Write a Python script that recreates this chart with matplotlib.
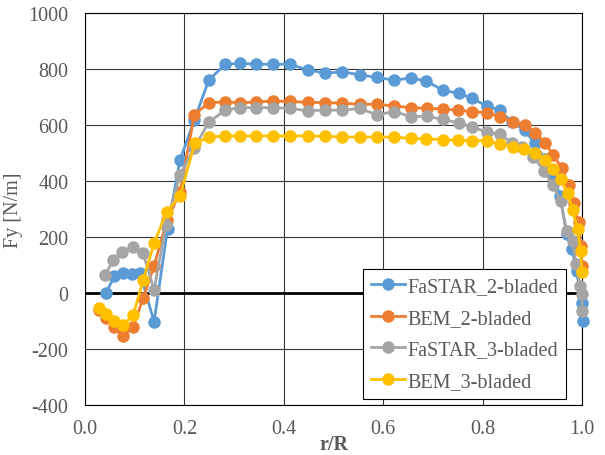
import matplotlib.pyplot as plt

plt.rcParams['font.family'] = ['Liberation Serif', 'DejaVu Serif']
plt.rcParams['axes.unicode_minus'] = False

# FaSTAR, 2 blades
r_fastar2 = [0.042, 0.059, 0.076, 0.094, 0.111, 0.139, 0.166, 0.191, 0.220, 0.249,
             0.282, 0.312, 0.345, 0.379, 0.412, 0.448, 0.483, 0.518, 0.553, 0.587,
             0.622, 0.655, 0.687, 0.720, 0.752, 0.779, 0.808, 0.835, 0.859, 0.885,
             0.905, 0.926, 0.942, 0.956, 0.969, 0.980, 0.989, 0.999, 1.003]
fy_fastar2 = [0, 59, 70, 67, 70, -103, 228, 474, 618, 760,
              817, 820, 817, 817, 817, 797, 785, 790, 779, 770,
              760, 768, 757, 724, 713, 695, 668, 653, 609, 581,
              535, 478, 418, 347, 210, 156, 79, -34, -100]

# BEM, 2 blades
r_bem2 = [0.028, 0.042, 0.059, 0.076, 0.097, 0.117, 0.139, 0.165, 0.191, 0.220,
          0.249, 0.282, 0.312, 0.345, 0.379, 0.412, 0.448, 0.483, 0.518, 0.553,
          0.587, 0.622, 0.655, 0.688, 0.721, 0.751, 0.779, 0.808, 0.835, 0.861,
          0.885, 0.905, 0.926, 0.942, 0.959, 0.973, 0.983, 0.993, 0.997, 1.0]
fy_bem2 = [-60, -88, -123, -153, -120, -18, 97, 260, 359, 636,
           680, 682, 680, 682, 686, 684, 681, 680, 678, 674,
           674, 668, 662, 660, 657, 652, 648, 644, 630, 611,
           599, 573, 537, 492, 448, 385, 321, 252, 168, 95]

# FaSTAR, 3 blades
r_fastar3 = [0.040, 0.057, 0.075, 0.096, 0.117, 0.139, 0.163, 0.191, 0.220, 0.249,
             0.282, 0.312, 0.345, 0.379, 0.412, 0.448, 0.483, 0.518, 0.553, 0.587,
             0.622, 0.655, 0.688, 0.721, 0.752, 0.779, 0.808, 0.835, 0.859, 0.880,
             0.902, 0.924, 0.941, 0.957, 0.969, 0.981, 0.988, 0.996, 0.999, 1.001]
fy_fastar3 = [64, 117, 145, 166, 142, 11, 242, 421, 519, 610,
              653, 662, 662, 662, 659, 651, 653, 653, 659, 636,
              648, 630, 631, 620, 607, 593, 575, 567, 537, 520,
              487, 436, 385, 329, 222, 186, 103, 25, -4, -64]

# BEM, 3 blades
r_bem3 = [0.028, 0.042, 0.059, 0.076, 0.097, 0.117, 0.139, 0.164, 0.191, 0.221,
          0.249, 0.282, 0.312, 0.345, 0.379, 0.412, 0.448, 0.483, 0.518, 0.553,
          0.587, 0.622, 0.655, 0.687, 0.720, 0.751, 0.779, 0.808, 0.835, 0.861,
          0.883, 0.905, 0.926, 0.942, 0.957, 0.971, 0.981, 0.991, 0.997, 1.0]
fy_bem3 = [-52, -76, -100, -115, -79, 47, 177, 290, 345, 535,
           557, 561, 561, 561, 561, 561, 561, 560, 557, 557,
           557, 557, 552, 550, 548, 545, 544, 544, 531, 523,
           516, 499, 474, 442, 406, 356, 297, 230, 150, 75]

series = [
    ('FaSTAR_2-bladed', r_fastar2, fy_fastar2, '#5B9BD5'),
    ('BEM_2-bladed', r_bem2, fy_bem2, '#ED7D31'),
    ('FaSTAR_3-bladed', r_fastar3, fy_fastar3, '#A5A5A5'),
    ('BEM_3-bladed', r_bem3, fy_bem3, '#FFC000'),
]

fig = plt.figure(figsize=(6.05, 4.56), dpi=100)
ax = fig.add_axes([85 / 605, 1 - 406 / 456, 497 / 605, 392 / 456])

for label, r, fy, c in series:
    ax.plot(r, fy, '-o', color=c, lw=2, ms=8, label=label, clip_on=False, zorder=3)

ax.set_xlim(0, 1)
ax.set_ylim(-400, 1000)
ax.set_xticks([0, 0.2, 0.4, 0.6, 0.8, 1.0])
ax.set_xticklabels(['0.0', '0.2', '0.4', '0.6', '0.8', '1.0'])
ax.set_yticks(range(-400, 1001, 200))
ax.grid(True, color='#333333', lw=0.8)
ax.axhline(0, color='black', lw=2, zorder=2)
ax.tick_params(length=0, labelsize=14.5, colors='#595959')
ax.tick_params(axis='x', pad=10)
ax.tick_params(axis='y', pad=12)
for s in ax.spines.values():
    s.set_color('black')
    s.set_linewidth(0.8)

ax.set_xlabel('r/R', fontsize=14.5, fontweight='bold', color='#595959')
ax.xaxis.set_label_coords(0.5, -0.074)
ax.set_ylabel('Fy [N/m]', fontsize=14.5, color='#595959', labelpad=4)

leg = ax.legend(loc='lower left', bbox_to_anchor=(363 / 605, 1 - 400 / 456),
                bbox_transform=fig.transFigure, borderaxespad=0, fontsize=14.5,
                frameon=True, fancybox=False, framealpha=1, edgecolor='black',
                handlelength=1.7, handletextpad=0.1, labelspacing=0.62,
                borderpad=0.4)
leg.get_frame().set_linewidth(0.8)
for t in leg.get_texts():
    t.set_color('#595959')

fig.savefig('out.png', dpi=100)
